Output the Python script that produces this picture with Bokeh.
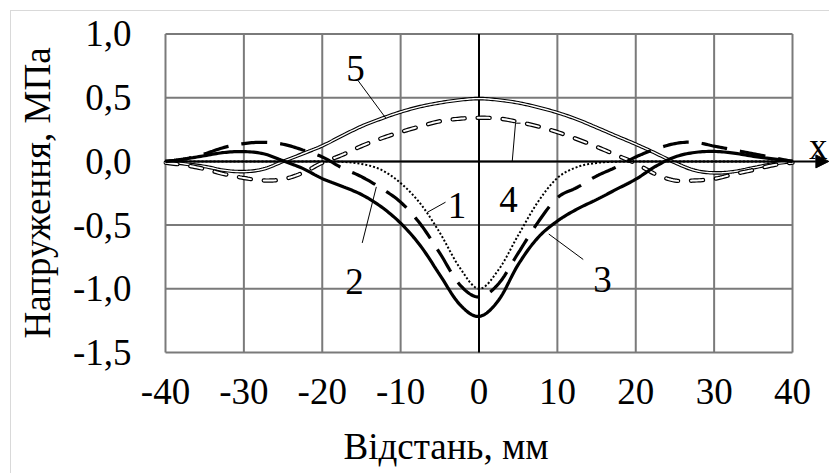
import math
from bokeh.plotting import figure
from bokeh.models import Range1d, FixedTicker, Label, Arrow, NormalHead, Title
from bokeh.embed import file_html
from bokeh.resources import INLINE

# ---------------- data ----------------
x_mm = [-40, -37.5, -35, -32.5, -30, -27.5, -25, -22.5, -20, -17.5, -15, -12.5, -10,
        -7.5, -5, -2.5, 0, 2.5, 5, 7.5, 10, 12.5, 15, 17.5, 20, 22.5, 25, 27.5, 30,
        32.5, 35, 37.5, 40]

curve1 = [0, 0, 0, 0, 0, 0, 0, 0, 0, -0.003, -0.02, -0.065, -0.17,
          -0.33, -0.56, -0.83, -1.0, -0.85, -0.58, -0.32, -0.13, -0.045, -0.012, -0.002, 0,
          0, 0, 0, 0, 0, 0, 0, 0]

curve2 = [0.0, 0.02, 0.06, 0.11, 0.14, 0.15, 0.135, 0.09, 0.035, -0.05, -0.12, -0.21, -0.32,
          -0.49, -0.72, -0.965, -1.065, -0.96, -0.72, -0.48, -0.285, -0.205, -0.115, -0.045, 0.035,
          0.095, 0.14, 0.15, 0.12, 0.09, 0.06, 0.03, 0.0]

curve3 = [0.0, 0.02, 0.045, 0.07, 0.077, 0.06, 0.005, -0.055, -0.135, -0.195, -0.26, -0.355, -0.485,
          -0.66, -0.89, -1.12, -1.217, -1.09, -0.81, -0.60, -0.468, -0.375, -0.30, -0.22, -0.14,
          -0.04, 0.035, 0.07, 0.078, 0.065, 0.04, 0.02, 0.0]

curve4 = [-0.01, -0.03, -0.06, -0.1, -0.13, -0.15, -0.14, -0.09, -0.01, 0.05, 0.12, 0.18, 0.23,
          0.275, 0.315, 0.335, 0.342, 0.337, 0.31, 0.275, 0.23, 0.175, 0.115, 0.05, -0.015,
          -0.1, -0.15, -0.15, -0.137, -0.1, -0.067, -0.03, -0.01]

curve5 = [0.0, -0.02, -0.04, -0.07, -0.08, -0.06, 0.0, 0.06, 0.122, 0.2, 0.275, 0.335, 0.388,
          0.43, 0.46, 0.482, 0.493, 0.482, 0.46, 0.425, 0.383, 0.33, 0.266, 0.2, 0.135,
          0.065, -0.01, -0.07, -0.09, -0.08, -0.05, -0.02, 0.0]

x_ticks = [-40, -30, -20, -10, 0, 10, 20, 30, 40]
x_tick_labels = ["-40", "-30", "-20", "-10", "0", "10", "20", "30", "40"]
y_ticks = [-1.5, -1.0, -0.5, 0.0, 0.5, 1.0]
y_tick_labels = ["-1,5", "-1,0", "-0,5", "0,0", "0,5", "1,0"]

# curve number labels and their leader lines (data coordinates)
num_text = ["5", "4", "1", "2", "3"]
num_x = [-15.76, 3.77, -2.8, -15.9, 15.75]
num_y = [0.73, -0.302, -0.35, -0.943, -0.93]
leader_xs = [[-15.5, -11.9], [4.24, 4.66, 5.3], [-4.27, -6.6], [-14.9, -13.1], [13.3, 8.9]]
leader_ys = [[0.64, 0.34], [0.0, 0.30, 0.30], [-0.32, -0.40], [-0.64, -0.20], [-0.77, -0.57]]

x_title = "Відстань, мм"
y_title = "Напруження, МПа"

FONT = "Liberation Serif"
FS = "37px"


def smoothed(xs, ys, n=10):
    """Excel-like smoothed line (Catmull-Rom) through the given points."""
    pts = list(zip(xs, ys))
    ox, oy = [], []
    for i in range(len(pts) - 1):
        p0 = pts[i - 1] if i > 0 else pts[i]
        p1, p2 = pts[i], pts[i + 1]
        p3 = pts[i + 2] if i + 2 < len(pts) else pts[i + 1]
        for k in range(n):
            t = k / n
            t2, t3 = t * t, t * t * t
            for c, out in ((0, ox), (1, oy)):
                out.append(0.5 * ((2 * p1[c]) + (-p0[c] + p2[c]) * t +
                                  (2 * p0[c] - 5 * p1[c] + 4 * p2[c] - p3[c]) * t2 +
                                  (-p0[c] + 3 * p1[c] - 3 * p2[c] + p3[c]) * t3))
    ox.append(pts[-1][0])
    oy.append(pts[-1][1])
    return ox, oy


# ---------------- figure ----------------
x_start, x_end = -40.255, 44.72
y_start, y_end = -1.5157, 1.0196

p = figure(frame_width=666, frame_height=323,
           min_border_left=163, min_border_right=0, min_border_top=31, min_border_bottom=119,
           x_range=Range1d(x_start, x_end), y_range=Range1d(y_start, y_end),
           output_backend="svg", toolbar_location=None,
           background_fill_color="white", border_fill_color=None)
p.outline_line_color = None
p.xgrid.visible = False
p.ygrid.visible = False
# light frame of the chart area (top and left edges)
p.styles = {
    "background-color": "white",
    "background-image": "linear-gradient(#d9d9d9,#d9d9d9), linear-gradient(#d9d9d9,#d9d9d9)",
    "background-size": "1px 100%, 100% 1px",
    "background-position": "10px 10px, 10px 10px",
    "background-repeat": "no-repeat",
}

for ax in (p.xaxis[0], p.yaxis[0]):
    ax.axis_line_color = None
    ax.major_tick_line_color = None
    ax.minor_tick_line_color = None
    ax.major_tick_in = 0
    ax.major_tick_out = 0
    ax.minor_tick_in = 0
    ax.minor_tick_out = 0
    ax.major_label_text_font = FONT
    ax.major_label_text_font_size = FS
    ax.major_label_text_color = "black"

p.xaxis.ticker = FixedTicker(ticks=x_ticks)
p.xaxis.major_label_overrides = {t: s for t, s in zip(x_ticks, x_tick_labels)}
p.xaxis.major_label_standoff = 24
p.yaxis.ticker = FixedTicker(ticks=y_ticks)
p.yaxis.major_label_overrides = {t: s for t, s in zip(y_ticks, y_tick_labels)}
p.yaxis.major_label_standoff = 32
p.yaxis.axis_label = y_title
p.yaxis.axis_label_text_font = FONT
p.yaxis.axis_label_text_font_size = FS
p.yaxis.axis_label_text_font_style = "normal"
p.yaxis.axis_label_text_color = "black"
p.yaxis.axis_label_standoff = 12

p.add_layout(Title(text=x_title, align="left", offset=180, text_font=FONT,
                   text_font_size=FS, text_font_style="normal", text_color="black",
                   standoff=34), "below")

# grid (from tick arrays)
GRID = "#7a7a7a"
p.segment(x0=x_ticks, y0=[y_ticks[0]] * len(x_ticks), x1=x_ticks, y1=[y_ticks[-1]] * len(x_ticks),
          line_color=GRID, line_width=2)
p.segment(x0=[x_ticks[0]] * len(y_ticks), y0=y_ticks, x1=[x_ticks[-1]] * len(y_ticks), y1=y_ticks,
          line_color=GRID, line_width=2)
# black zero lines
p.segment(x0=[0], y0=[y_ticks[0]], x1=[0], y1=[y_ticks[-1]], line_color="black", line_width=2)
p.add_layout(Arrow(end=NormalHead(size=13, fill_color="black", line_color="black", line_width=1),
                   x_start=x_ticks[0], y_start=0, x_end=x_end - 0.08, y_end=0,
                   line_color="black", line_width=2))

# curves
sx1, sy1 = smoothed(x_mm, curve1)
sx2, sy2 = smoothed(x_mm, curve2)
sx3, sy3 = smoothed(x_mm, curve3)
sx4, sy4 = smoothed(x_mm, curve4)
sx5, sy5 = smoothed(x_mm, curve5)
p.line(sx1, sy1, line_color="black", line_width=2, line_dash="2 2")
p.line(sx5, sy5, line_color="black", line_width=3.6)
p.line(sx5, sy5, line_color="white", line_width=1.4)
p.line(sx4, sy4, line_color="black", line_width=4.4, line_dash="12 13", line_cap="round")
p.line(sx4, sy4, line_color="white", line_width=2.0, line_dash="12 13", line_cap="round")
p.line(sx2, sy2, line_color="black", line_width=3.2, line_dash="26 13")
p.line(sx3, sy3, line_color="black", line_width=3.2)

# leaders and curve numbers
p.multi_line(leader_xs, leader_ys, line_color="black", line_width=1)
for t, lx, ly in zip(num_text, num_x, num_y):
    p.add_layout(Label(x=lx, y=ly, text=t, text_font=FONT, text_font_size=FS,
                       text_align="center", text_baseline="alphabetic", text_color="black"))

# x axis letter
p.add_layout(Label(x=43.3, y=0.114, text="x", text_font=FONT, text_font_size=FS,
                   text_align="center", text_baseline="alphabetic", text_color="black"))

open("out.html", "w").write(file_html(p, INLINE))
